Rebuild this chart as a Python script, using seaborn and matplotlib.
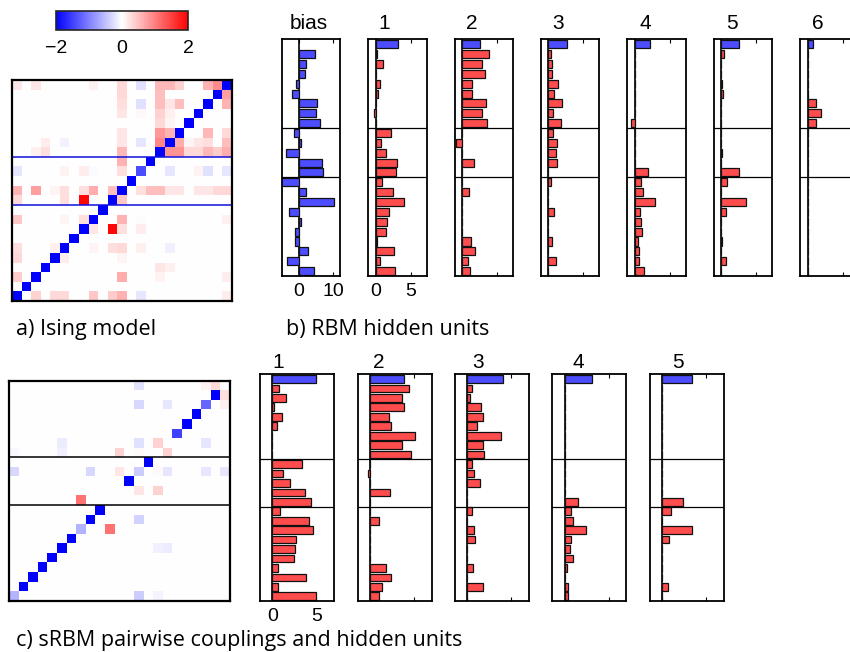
import numpy as np
import pandas as pd
import matplotlib
matplotlib.use("Agg")
import matplotlib.pyplot as plt
import seaborn as sns

# ---------------- data ----------------
N_UNITS = 23
group_breaks = [8, 13]          # boundaries between spin groups (after unit 8 and unit 13)

# Ising model couplings: diagonal (row r -> column 22-r) and sparse off-diagonal cells
ising_diag = [-2, -2, -2, -2, -2, -2, -2, -2, -2, -1.4, -2, -2, -2,
              -2, -2, -2, -2, -2, -2, -2, -2, -2, -2]
ising_cells = [
    (0, 0, 0.2), (0, 2, 0.2), (0, 8, 0.12), (0, 11, 0.3), (0, 13, -0.25), (0, 15, 0.55),
    (0, 16, 0.55), (0, 17, 0.35), (0, 20, 0.6), (0, 21, 0.9),
    (1, 11, 0.3), (1, 15, 0.5), (1, 22, 0.75),
    (2, 11, 0.25), (2, 13, -0.25), (2, 15, 0.5), (2, 16, 0.2), (2, 17, 0.5), (2, 22, 0.6),
    (3, 11, 0.2), (3, 13, 0.06), (3, 15, 0.35), (3, 16, 0.12),
    (4, 15, 0.3), (4, 16, 0.08),
    (5, 11, 0.2), (5, 15, 0.8), (5, 16, 0.6), (5, 20, 0.55), (5, 22, 0.3),
    (6, 3, 0.15), (6, 5, -0.1), (6, 11, 0.2), (6, 13, -0.2), (6, 15, 0.95), (6, 17, 0.65),
    (6, 18, 0.08), (6, 19, 0.2), (6, 20, 0.25), (6, 22, 0.5),
    (7, 2, 0.12), (7, 3, 0.25), (7, 11, 0.55), (7, 16, 0.85), (7, 17, 0.85), (7, 18, 0.3),
    (7, 19, 0.3), (7, 20, 0.55), (7, 21, 0.4), (7, 22, 0.65),
    (8, 11, 0.6),
    (9, 0, -0.2), (9, 5, 0.1), (9, 7, 0.15), (9, 8, -0.04), (9, 11, 0.25), (9, 16, -0.2),
    (9, 19, 0.1), (9, 20, -0.25), (9, 22, -0.2),
    (11, 0, 0.6), (11, 2, 0.75), (11, 4, 0.08), (11, 5, 0.25), (11, 7, 0.25), (11, 8, 0.65),
    (11, 10, 0.5), (11, 13, 0.25), (11, 14, 0.5), (11, 15, 0.5), (11, 16, 0.2), (11, 17, 0.2),
    (11, 19, 0.2), (11, 20, 0.2), (11, 21, 0.3), (11, 22, 0.3),
    (12, 0, 0.3), (12, 5, 0.25), (12, 7, 1.95), (12, 11, 0.45),
    (14, 0, 0.45), (14, 5, 0.08), (14, 7, 0.25), (14, 11, 0.6), (14, 13, -0.03), (14, 22, 0.12),
    (15, 8, 0.2), (15, 10, 1.95), (15, 11, 0.25), (15, 13, 0.15),
    (17, 0, 0.25), (17, 4, 0.12), (17, 8, 0.08), (17, 10, 0.25), (17, 11, 0.3), (17, 13, 0.12),
    (17, 16, -0.12),
    (18, 0, 0.3), (18, 5, 0.15), (18, 11, 0.08),
    (19, 15, 0.2), (19, 16, 0.12),
    (20, 0, 0.4), (20, 11, 0.65), (20, 15, 0.1), (20, 22, 0.15),
    (22, 2, 0.35), (22, 4, 0.3), (22, 5, 0.3), (22, 8, 0.45), (22, 10, 0.4), (22, 11, 0.6),
    (22, 13, -0.2), (22, 22, 0.15),
]

# sRBM pairwise couplings
srbm_diag = [0, -2, -1.2, -2, -2, -1.5, 0, 0, -2, -0.4, -2, 0, 0,
             -2, -2, -0.6, -2, -2, -2, -2, -2, -2, -0.6]
srbm_cells = [
    (0, 13, -0.25), (0, 20, 0.1), (0, 21, 0.3),
    (1, 22, 0.25),
    (2, 13, -0.3), (2, 16, -0.2), (2, 22, 0.12),
    (6, 5, -0.15), (6, 13, -0.25), (6, 15, 0.35), (6, 20, -0.2),
    (7, 0, -0.06), (7, 5, -0.12), (7, 11, 0.35), (7, 13, 0.04), (7, 16, 0.35),
    (9, 0, -0.3), (9, 8, -0.3), (9, 11, 0.2), (9, 15, 0.04), (9, 16, -0.2), (9, 20, -0.2),
    (9, 22, -0.2),
    (11, 13, 0.2), (11, 15, 0.35),
    (12, 7, 1.1),
    (14, 13, -0.35),
    (15, 10, 1.1),
    (17, 15, -0.12), (17, 16, -0.15),
    (22, 13, -0.4), (22, 15, -0.08),
]

# b) RBM: visible biases and hidden units (hidden bias + 23 weights)
rbm_visible_bias = [4.7, 2.2, 1.9, -0.87, -1.8, 5.3, 5.1, 6.2,
                    -1.5, 0.6, -3.6, 6.7, 6.9,
                    -5.5, 2.0, 10.1, -2.8, 0.67, -1.15, -1.15, 2.8, -3.3, 4.5]
rbm_labels = ["1", "2", "3", "4", "5", "6"]
rbm_hidden_bias = [3.2, 2.48, 2.71, 2.24, 2.52, 0.76]
rbm_w1 = [0.24, 1.0, 0, 0.62, 0.38, 0, -0.29, 0,
          2.24, 0.71, 1.52, 3.05, 2.86,
          0.9, 2.43, 4.0, 1.86, 1.67, 1.52, 0.24, 2.67, 0.57, 2.71]
rbm_w2 = [3.86, 2.81, 3.19, 1.33, 1.43, 3.38, 2.81, 3.48,
          0, -0.9, 0, 1.67, 0,
          0, 1.0, 0, 0, 0, 0, 1.19, 1.86, 0.81, 1.05]
rbm_w3 = [0.33, 0.48, 0.57, 1.33, 0.86, 2.0, 0.62, 1.81,
          0.62, 1.29, 1.05, 1.19, 0,
          0.43, 0, 0, 0.86, 0, 0, 0.48, 0, 1.1, 0]
rbm_w4 = [0, 0, 0, 0, 0, 0, 0, -0.48,
          0, 0, 0, 0, 1.86,
          0.86, 1.19, 2.95, 0.81, 0.95, 1.0, 0.43, 0.62, 0.62, 1.29]
rbm_w5 = [0.38, 0, 0, 0.1, 0.33, 0, 0, 0,
          0, 0, 0.1, 0, 2.52,
          0.9, 0, 3.52, 0.67, 0, 0, 0.08, 0, 0.67, 0]
rbm_w6 = [0, 0, 0, 0, 0, 1.19, 1.95, 1.24,
          0, 0, 0, 0, 0,
          0, 0, 0, 0, 0, 0, 0, 0, 0, 0]

# c) sRBM hidden units
srbm_labels = ["1", "2", "3", "4", "5"]
srbm_hidden_bias = [4.96, 3.9, 4.0, 3.16, 3.35]
srbm_w1 = [0.75, 1.5, 0.19, 1.13, 0.56, 0, 0, 0,
           3.38, 1.2, 2.0, 3.72, 4.4,
           0.9, 4.14, 4.6, 2.67, 2.6, 2.44, 0.64, 3.8, 0.64, 4.92]
srbm_w2 = [4.4, 3.65, 3.8, 2.14, 2.4, 5.07, 3.68, 4.62,
           0, -0.23, 0, 2.3, 0,
           0, 1.0, 0, 0, 0, 0, 1.84, 2.4, 1.35, 0.98]
srbm_w3 = [0.53, 0.26, 1.58, 1.73, 1.09, 3.83, 1.77, 1.92,
           0.49, 0.71, 1.47, 0, 0,
           0.53, 0, 0.71, 0.86, 0, 0, 0.64, 0, 1.77, 0]
srbm_w4 = [0, 0, 0, 0, 0, 0, 0, 0,
           0, 0, 0, 0, 1.47,
           0.71, 0.94, 2.4, 0.71, 0.6, 0.94, 0.3, 0, 0.34, 0.34]
srbm_w5 = [0, 0, 0, 0, 0, 0, 0, 0,
           0, 0, 0, 0, 2.3,
           0.94, 0, 3.42, 0.75, 0, 0, 0, 0, 0.6, 0]

# ---------------- style ----------------
sns.set_style("white")
plt.rcParams["font.family"] = ["Liberation Sans", "DejaVu Sans"]
plt.rcParams["text.color"] = "black"
plt.rcParams["axes.labelcolor"] = "black"
plt.rcParams["xtick.color"] = "black"
plt.rcParams["ytick.color"] = "black"
RED = "#ff4d4d"
BLUE = "#4d4dff"
W, H = 850, 652
fig = plt.figure(figsize=(W / 100, H / 100), dpi=100)


def pos(l, t, r, b):
    return [l / W, 1 - b / H, (r - l) / W, (b - t) / H]


def build_matrix(diag, cells):
    m = np.zeros((N_UNITS, N_UNITS))
    for r, v in enumerate(diag):
        m[r, N_UNITS - 1 - r] = v
    for r, c, v in cells:
        m[r, c] = v
    return m


def heat(ax, mat, line_color):
    sns.heatmap(mat, ax=ax, cmap="bwr", vmin=-2, vmax=2, cbar=False,
                xticklabels=False, yticklabels=False)
    for b in group_breaks:
        ax.axhline(b, color=line_color, lw=1.1)
    for s in ax.spines.values():
        s.set_visible(True)
        s.set_color("black")
        s.set_linewidth(1.6)


def bar_panel(ax, hidden_bias, weights, xlim, ticks, show_labels, visible=False):
    rows = [f"r{i}" for i in range(N_UNITS + 1)]
    if visible:
        df = pd.DataFrame({"row": rows[1:], "value": weights, "kind": "visible"})
        pal = {"visible": BLUE}
    else:
        df = pd.DataFrame({"row": rows, "value": [hidden_bias] + list(weights),
                           "kind": ["hidden"] + ["weight"] * N_UNITS})
        pal = {"hidden": BLUE, "weight": RED}
    sns.barplot(data=df, x="value", y="row", hue="kind", order=rows,
                palette=pal, dodge=False, orient="h", width=0.82, saturation=1,
                edgecolor="#111111", linewidth=0.9, errorbar=None,
                legend=False, ax=ax)
    ax.axvline(0, color="black", lw=1.2, zorder=0.5)
    for b in group_breaks:
        ax.axhline(b + 0.5, color="black", lw=0.9)
    ax.set_xlim(*xlim)
    ax.set_ylim(N_UNITS + 0.5, -0.5)
    ax.set_yticks([])
    ax.set_xticks(ticks)
    if not show_labels:
        ax.set_xticklabels([])
    ax.set_xlabel("")
    ax.set_ylabel("")
    ax.tick_params(axis="x", direction="in", top=True, bottom=True,
                   length=3, width=0.8, labelsize=14, pad=5, colors="black")
    for s in ax.spines.values():
        s.set_visible(True)
        s.set_color("black")
        s.set_linewidth(1.3)


# ---------------- a) Ising ----------------
ax_a = fig.add_axes(pos(12, 80, 232, 301))
heat(ax_a, build_matrix(ising_diag, ising_cells), "#1010e0")
cax = fig.add_axes(pos(55.7, 11, 188.3, 30))
cb = fig.colorbar(ax_a.collections[0], cax=cax, orientation="horizontal", ticks=[-2, 0, 2])
cb.outline.set_linewidth(1.2)
cax.tick_params(labelsize=14, length=0, pad=7, colors="black")
fig.text(16 / W, 1 - 334.5 / H, "a) Ising model", ha="left", va="baseline",
         family=["Open Sans", "DejaVu Sans"], size=15.5, color="black")

# ---------------- b) RBM ----------------
b_lefts = [281.7, 368.3, 455, 541, 627.3, 713.7, 800.3]
b_title_x = [309, 384.3, 471.7, 558.3, 645, 731.7, 818.3]
rbm_weights = [rbm_w1, rbm_w2, rbm_w3, rbm_w4, rbm_w5, rbm_w6]
ax_bias = fig.add_axes(pos(b_lefts[0], 39.3, b_lefts[0] + 58.4, 276))
bar_panel(ax_bias, None, rbm_visible_bias, (-4.9, 11.9), [0, 10], True, visible=True)
fig.text(b_title_x[0] / W, 1 - 29.3 / H, "bias", ha="center", va="baseline", size=15,
         color="black")
for i, (lab, hb, w) in enumerate(zip(rbm_labels, rbm_hidden_bias, rbm_weights)):
    l = b_lefts[i + 1]
    ax = fig.add_axes(pos(l, 39.3, l + 58.4, 276))
    bar_panel(ax, hb, w, (-1.05, 7.3), [0, 5], i == 0)
    fig.text(b_title_x[i + 1] / W, 1 - 29.3 / H, lab, ha="center", va="baseline", size=15,
             color="black")
fig.text(286 / W, 1 - 334.5 / H, "b) RBM hidden units", ha="left", va="baseline",
         family=["Open Sans", "DejaVu Sans"], size=15.5, color="black")

# ---------------- c) sRBM ----------------
ax_c = fig.add_axes(pos(9, 380.7, 230, 600.7))
heat(ax_c, build_matrix(srbm_diag, srbm_cells), "black")
c_lefts = [260, 357.7, 455, 552.3, 650]
c_title_x = [278.3, 378.3, 478.3, 578.3, 677.7]
srbm_weights = [srbm_w1, srbm_w2, srbm_w3, srbm_w4, srbm_w5]
for i, (lab, hb, w) in enumerate(zip(srbm_labels, srbm_hidden_bias, srbm_weights)):
    l = c_lefts[i]
    ax = fig.add_axes(pos(l, 374.3, l + 74, 601))
    bar_panel(ax, hb, w, (-1.4, 7.0), [0, 5], i == 0)
    fig.text(c_title_x[i] / W, 1 - 368.3 / H, lab, ha="center", va="baseline", size=15,
             color="black")
fig.text(16 / W, 1 - 646 / H, "c) sRBM pairwise couplings and hidden units", ha="left",
         va="baseline", family=["Open Sans", "DejaVu Sans"], size=15.5, color="black")

fig.savefig("out.png", dpi=100)
